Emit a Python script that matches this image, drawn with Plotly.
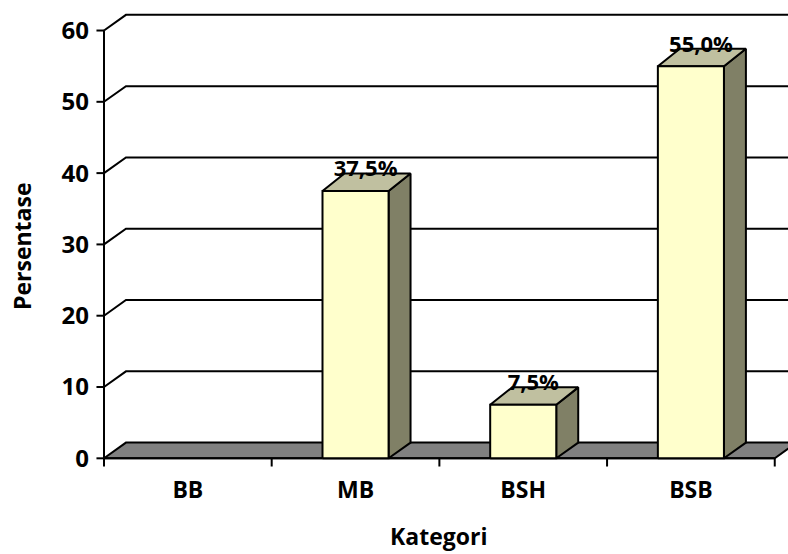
import plotly.graph_objects as go

# --- data ---
categories = ["BB", "MB", "BSH", "BSB"]
percent = [0.0, 37.5, 7.5, 55.0]
y_ticks = [0, 10, 20, 30, 40, 50, 60]
y_title = "Persentase"
x_title = "Kategori"

# --- styling / pseudo-3D geometry (in axis units) ---
FONT = "Open Sans"
FS_TICK = 24
FS_TITLE = 23
FS_LABEL = 22
DX = 0.131        # depth shift along x (category units)
DY_WALL = 2.2     # depth shift of wall/floor along y (value units)
DY_BAR = 2.45     # depth shift of bar tops
BAR_W = 0.394
FRONT = "#FFFFCC"
TOP = "#C0C0A0"
SIDE = "#808066"
FLOOR = "#808080"
LINE = "#000000"

n = len(categories)
X_MIN, X_MAX = -0.0835, 4.079
Y_MIN, Y_MAX = -1.64, 64.28
TICK_X = 0.045    # length of y tick marks (x units)
TICK_Y = 1.15     # length of x tick marks (y units)

fig = go.Figure()


def poly(xs, ys, fill, width=2):
    fig.add_trace(go.Scatter(
        x=xs, y=ys, mode="lines", fill="toself" if fill else None,
        fillcolor=fill, line=dict(color=LINE, width=width),
        hoverinfo="skip", showlegend=False))


def line(xs, ys, width=2):
    fig.add_trace(go.Scatter(
        x=xs, y=ys, mode="lines", line=dict(color=LINE, width=width),
        hoverinfo="skip", showlegend=False))


# back-wall gridlines with diagonal side-wall segment
far_right = n + DX + 0.5
for v in y_ticks[1:]:
    line([0, DX, far_right], [v, v + DY_WALL, v + DY_WALL], width=2)

# floor
poly([0, n, n + DX, DX, 0], [0, 0, DY_WALL, DY_WALL, 0], FLOOR)

# front value axis and category axis
line([0, 0], [0, y_ticks[-1]], width=2)
line([0, n], [0, 0], width=2)

# tick marks
for v in y_ticks:
    line([-TICK_X, 0], [v, v], width=2)
for i in range(n + 1):
    line([i, i], [0, -TICK_Y], width=2)

# bars: front face, side face, top face
for i, v in enumerate(percent):
    if v <= 0:
        continue
    c = i + 0.5
    x0, x1 = c - BAR_W / 2, c + BAR_W / 2
    poly([x1, x1 + DX, x1 + DX, x1, x1], [0, DY_WALL, v + DY_BAR, v, 0], SIDE)
    poly([x0, x1, x1 + DX, x0 + DX, x0], [v, v, v + DY_BAR, v + DY_BAR, v], TOP)
    poly([x0, x1, x1, x0, x0], [0, 0, v, v, 0], FRONT)

# value labels
lab_x, lab_y, lab_t = [], [], []
for i, v in enumerate(percent):
    if v <= 0:
        continue
    lab_x.append(i + 0.5 + 0.06)
    lab_y.append(v + 2.8)
    lab_t.append(f"{v:.1f}".replace(".", ",") + "%")
fig.add_trace(go.Scatter(
    x=lab_x, y=lab_y, text=lab_t, mode="text", textposition="middle center",
    textfont=dict(family=FONT, size=FS_LABEL, color="#000000", weight="bold"),
    cliponaxis=False, hoverinfo="skip", showlegend=False))

fig.update_layout(
    width=788, height=554,
    margin=dict(l=90, r=0, t=0, b=84),
    paper_bgcolor="white", plot_bgcolor="white",
    font=dict(family=FONT, size=FS_TICK, color="#000000", weight="bold"),
    xaxis=dict(
        range=[X_MIN, X_MAX], showgrid=False, zeroline=False, showline=False,
        tickmode="array", tickvals=[i + 0.5 for i in range(n)], ticktext=categories,
        ticks="", ticklabelstandoff=4,
        tickfont=dict(family=FONT, size=FS_TICK - 1, weight="bold"),
        fixedrange=True,
    ),
    yaxis=dict(
        range=[Y_MIN, Y_MAX], showgrid=False, zeroline=False, showline=False,
        tickmode="array", tickvals=y_ticks, ticks="", ticklabelstandoff=0,
        tickfont=dict(family=FONT, size=FS_TICK, weight="bold"),
        fixedrange=True,
    ),
    annotations=[
        dict(text=x_title, xref="paper", yref="paper", x=(438 - 90) / 698, y=-(536 - 470) / 470,
             xanchor="center", yanchor="middle", showarrow=False,
             font=dict(family=FONT, size=FS_TITLE, weight="bold")),
        dict(text=y_title, xref="paper", yref="paper", x=-(90 - 22) / 698, y=(470 - 246) / 470,
             xanchor="center", yanchor="middle", showarrow=False, textangle=-90,
             font=dict(family=FONT, size=FS_TITLE, weight="bold")),
    ],
)

fig.write_html("out.html")
